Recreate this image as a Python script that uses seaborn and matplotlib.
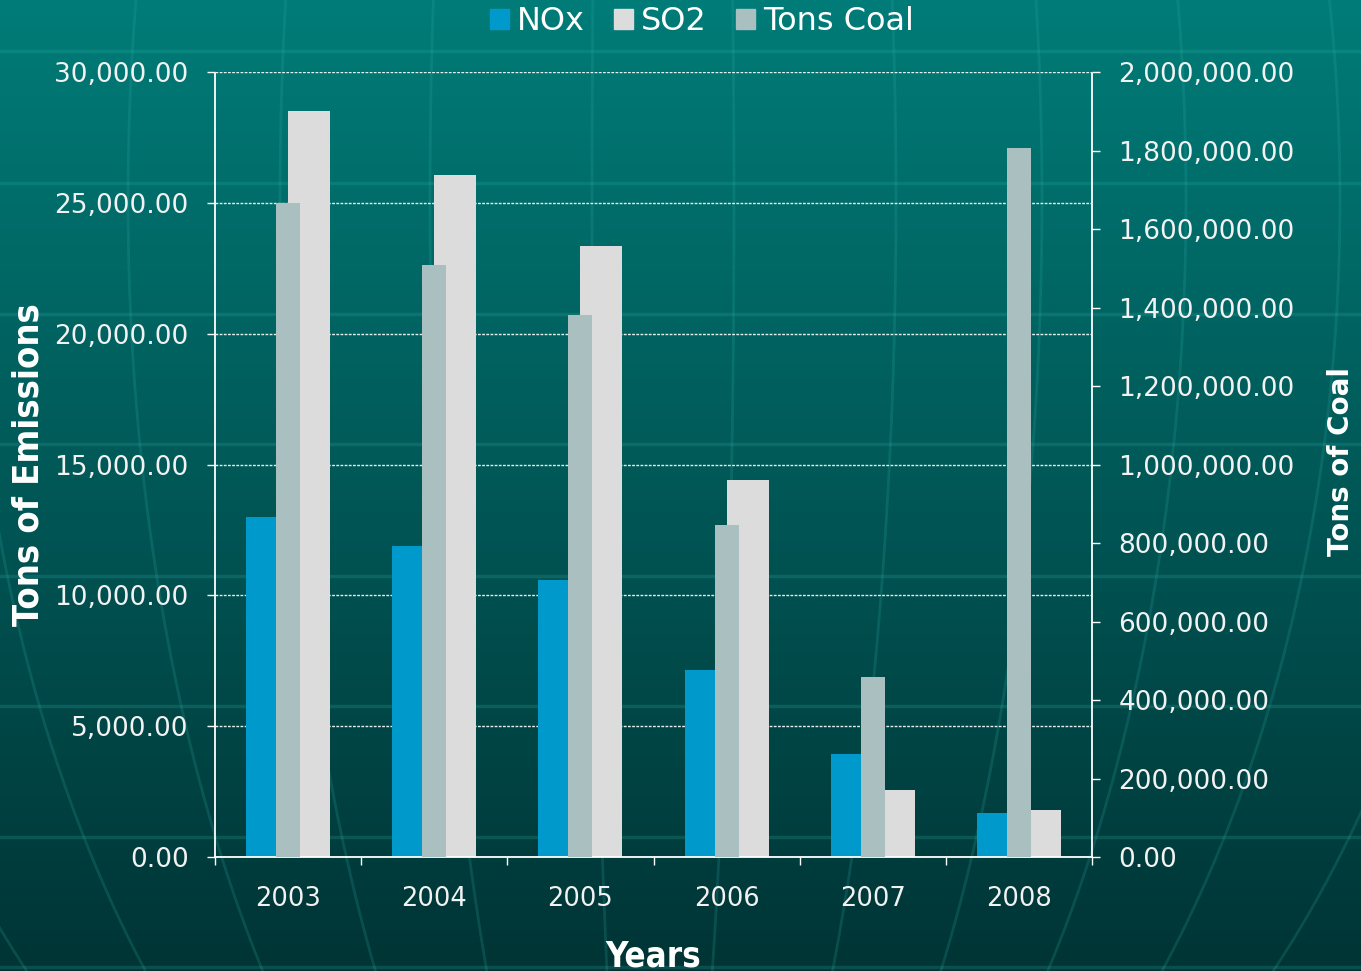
import numpy as np
import pandas as pd
import matplotlib
matplotlib.use("Agg")
import matplotlib.pyplot as plt
import seaborn as sns
from matplotlib.patches import Patch
from matplotlib.ticker import FuncFormatter, MultipleLocator, FixedLocator

# data
years = ['2003', '2004', '2005', '2006', '2007', '2008']
nox = [13000, 11900, 10600, 7150, 3950, 1700]
so2 = [28500, 26050, 23350, 14400, 2550, 1800]
coal = [1665000, 1508000, 1381000, 846000, 459000, 1806000]

nox_color = '#0099cc'
so2_color = '#dcdcdc'
coal_color = '#a9bfc0'
txt = '#f2f2f2'

sns.set_theme(style='white')
plt.rcParams['font.family'] = ['DejaVu Sans']

W, H = 1361, 971
fig = plt.figure(figsize=(W / 100, H / 100), dpi=100)

# background: teal gradient with faint globe lines
bg = fig.add_axes([0, 0, 1, 1])
bg.set_zorder(-1)
top = np.array([0, 124, 120]) / 255
bot = np.array([0, 52, 53]) / 255
t = np.linspace(0, 1, 400)[:, None]
grad = (top * (1 - t) + bot * t)[:, None, :]
bg.imshow(grad, extent=[0, W, H, 0], aspect='auto')
for yy in [51, 183, 314, 444, 576, 706, 837, 967]:
    bg.axhline(yy, color='#2fb0aa', alpha=0.22, lw=2.5)
# meridians of a big globe, converging below the picture
yv = np.linspace(0, H, 200)
shape = np.sqrt(np.clip(1 - ((yv - 200) / 1150) ** 2, 0, 1))
for k in [-840, -680, -522, -370, -220, -58, 84, 246, 392, 536, 690, 840]:
    bg.plot(650 + k * shape, yv, color='#2fb0aa', alpha=0.2, lw=2)
bg.set_xlim(0, W)
bg.set_ylim(H, 0)
bg.axis('off')

# main chart
ax = fig.add_axes([215 / W, 1 - 857 / H, 877 / W, 785 / H])
ax.set_facecolor('none')
df = pd.DataFrame({
    'Year': years * 2,
    'Tons': nox + so2,
    'Series': ['NOx'] * len(years) + ['SO2'] * len(years),
})
sns.barplot(data=df, x='Year', y='Tons', hue='Series', palette=[nox_color, so2_color],
            width=0.574, saturation=1, legend=False, ax=ax, errorbar=None, linewidth=0)

ax2 = ax.twinx()
sns.barplot(x=years, y=coal, color=coal_color, width=0.164, saturation=1, ax=ax2,
            errorbar=None, linewidth=0)

for a in (ax, ax2):
    a.set_xlim(-0.5, 5.5)
    a.set_xlabel('')
    a.set_ylabel('')
    for s in a.spines.values():
        s.set_visible(False)

ax.set_ylim(0, 30000)
ax2.set_ylim(0, 2000000)
ax.yaxis.set_major_locator(MultipleLocator(5000))
ax2.yaxis.set_major_locator(MultipleLocator(200000))
fmt = FuncFormatter(lambda v, p: f'{v:,.2f}')
ax.yaxis.set_major_formatter(fmt)
ax2.yaxis.set_major_formatter(fmt)

dots = (0, (1.5, 1))
ax.spines['left'].set_visible(True)
ax.spines['left'].set(color='white', lw=1.3, linestyle=dots)
ax.spines['bottom'].set_visible(True)
ax.spines['bottom'].set(color='white', lw=1.3, linestyle=dots)
ax2.spines['right'].set_visible(True)
ax2.spines['right'].set(color='white', lw=1.3, linestyle=dots)

ax.set_axisbelow(True)
ax.yaxis.grid(True, color='white', lw=1, linestyle=(0, (2, 1)), alpha=0.9)
ax.xaxis.grid(False)

ax.tick_params(axis='y', which='major', left=True, direction='out', length=6, width=1,
               color='white', labelcolor=txt, labelsize=19, pad=13)
ax2.tick_params(axis='y', which='major', right=True, direction='out', length=6, width=1,
                color='white', labelcolor=txt, labelsize=19, pad=13)
ax.xaxis.set_minor_locator(FixedLocator(np.arange(-0.5, 6, 1)))
ax.tick_params(axis='x', which='major', bottom=False, labelcolor=txt, labelsize=18.5, pad=15)
ax.tick_params(axis='x', which='minor', bottom=True, direction='out', length=6, width=1,
               color='white')
ax2.tick_params(axis='x', which='both', bottom=False, labelbottom=False)

title_font = dict(family='DejaVu Sans', weight='bold', color='white')
fig.text(29 / W, 1 - 465 / H, 'Tons of Emissions', rotation=90, ha='center', va='center',
         stretch='condensed', size=26, **title_font)
fig.text(1341 / W, 1 - 462 / H, 'Tons of Coal', rotation=90, ha='center', va='center',
         size=20, **title_font)
fig.text(653 / W, 1 - 966 / H, 'Years', ha='center', va='baseline', stretch='condensed',
         size=25, **title_font)

handles = [Patch(color=nox_color, label='NOx'), Patch(color=so2_color, label='SO2'),
           Patch(color=coal_color, label='Tons Coal')]
fig.legend(handles=handles, loc='center', bbox_to_anchor=(702 / W, 1 - 22 / H), ncol=3,
           frameon=False, fontsize=23, handlelength=0.6, handleheight=0.6,
           handletextpad=0.25, columnspacing=0.9, labelcolor='white')

fig.savefig('out.png', dpi=100)
